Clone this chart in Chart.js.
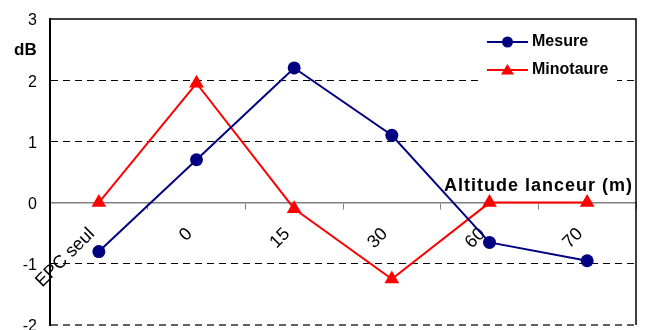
<!DOCTYPE html>
<html><head><meta charset="utf-8">
<script src="https://cdn.jsdelivr.net/npm/chart.js@4"></script>
<style>html,body{margin:0;padding:0;background:#fff}#wrap{width:646px;height:330px}</style>
</head><body><div id="wrap"><canvas id="c" width="646" height="330"></canvas></div>
<script>
const categories = ['EPC seul', '0', '15', '30', '60', '70'];
const mesure = [-0.8, 0.7, 2.2, 1.1, -0.65, -0.95];
const minotaure = [0, 1.95, -0.1, -1.25, 0, 0];
const yMin = -2, yMax = 3, yStep = 1;
const seriesNames = ['Mesure', 'Minotaure'];
const yAxisTitle = 'dB';
const xAxisTitle = 'Altitude lanceur (m)';

const FONT = '"Liberation Sans", Arial, sans-serif';
const NAVY = '#000080', RED = '#FF0000';

const decor = {
  id: 'decor',
  afterDraw(chart) {
    const {ctx, chartArea: a} = chart;
    ctx.save();
    // frame top & right
    ctx.strokeStyle = '#000'; ctx.lineWidth = 1.5;
    ctx.beginPath();
    ctx.moveTo(a.left, a.top); ctx.lineTo(a.right, a.top); ctx.lineTo(a.right, a.bottom);
    ctx.stroke();
    // titles
    ctx.fillStyle = '#000';
    ctx.font = 'bold 17px ' + FONT;
    ctx.textAlign = 'left'; ctx.textBaseline = 'alphabetic';
    ctx.fillText(yAxisTitle, 14, 55);
    ctx.font = 'bold 18px ' + FONT;
    try { ctx.letterSpacing = '1px'; } catch (e) {}
    ctx.fillText(xAxisTitle, 444, 191);
    try { ctx.letterSpacing = '0px'; } catch (e) {}
    // legend
    ctx.fillStyle = '#fff';
    ctx.fillRect(481, 22, 136, 60);
    const items = [
      {name: seriesNames[0], color: NAVY, style: 'circle', y: 42},
      {name: seriesNames[1], color: RED, style: 'triangle', y: 70}
    ];
    items.forEach(it => {
      ctx.strokeStyle = it.color; ctx.fillStyle = it.color; ctx.lineWidth = 2;
      ctx.beginPath(); ctx.moveTo(487, it.y); ctx.lineTo(528, it.y); ctx.stroke();
      ctx.beginPath();
      if (it.style === 'circle') {
        ctx.arc(507.5, it.y, 5.5, 0, Math.PI * 2);
      } else {
        ctx.moveTo(507.5, it.y - 6); ctx.lineTo(514, it.y + 4.5); ctx.lineTo(501, it.y + 4.5); ctx.closePath();
      }
      ctx.fill();
      ctx.fillStyle = '#000';
      ctx.font = 'bold 16px ' + FONT;
      ctx.textAlign = 'left'; ctx.textBaseline = 'middle';
      ctx.fillText(it.name, 532, it.y);
    });
    ctx.restore();
  }
};

new Chart(document.getElementById('c'), {
  type: 'line',
  data: {
    labels: categories,
    datasets: [
      {label: seriesNames[0], data: mesure, borderColor: NAVY, backgroundColor: NAVY,
       borderWidth: 2, pointStyle: 'circle', pointRadius: 6.5, pointBorderWidth: 0, tension: 0, clip: false},
      {label: seriesNames[1], data: minotaure, borderColor: RED, backgroundColor: RED,
       borderWidth: 2, pointStyle: 'triangle', pointRadius: 8.5, pointBorderWidth: 0, tension: 0, clip: false}
    ]
  },
  options: {
    responsive: false,
    animation: false,
    layout: {autoPadding: false, padding: {top: 19, bottom: 5, left: 0, right: 10}},
    plugins: {legend: {display: false}, tooltip: {enabled: false}},
    scales: {
      x: {
        type: 'category',
        offset: true,
        position: {y: 0},
        grid: {drawOnChartArea: false, drawTicks: true, tickLength: 6, color: '#808080', offset: true, lineWidth: 1},
        border: {display: true, color: '#808080', width: 1.5},
        ticks: {minRotation: 45, maxRotation: 45, autoSkip: false, color: '#000', padding: 15, labelOffset: -7,
                font: {family: FONT, size: 18}},
        afterFit(s) { s.paddingLeft = 0; s.paddingRight = 0; s.paddingTop = 0; s.paddingBottom = 0; }
      },
      y: {
        min: yMin, max: yMax,
        ticks: {stepSize: yStep, color: '#000', padding: 13, labelOffset: 2, font: {family: FONT, size: 16}},
        grid: {
          drawTicks: false,
          color: c => (c.tick && (c.tick.value === 0 || c.tick.value === yMax)) ? 'rgba(0,0,0,0)' :
                      (c.tick && c.tick.value === yMin ? '#606060' : '#000'),
          lineWidth: c => (c.tick && c.tick.value === yMin) ? 2 : 1
        },
        border: {display: true, color: '#000', width: 2, dash: [7, 5]},
        afterFit(s) { s.width = 50; s.paddingTop = 0; s.paddingBottom = 0; }
      }
    }
  },
  plugins: [decor]
});
</script>
</body></html>
